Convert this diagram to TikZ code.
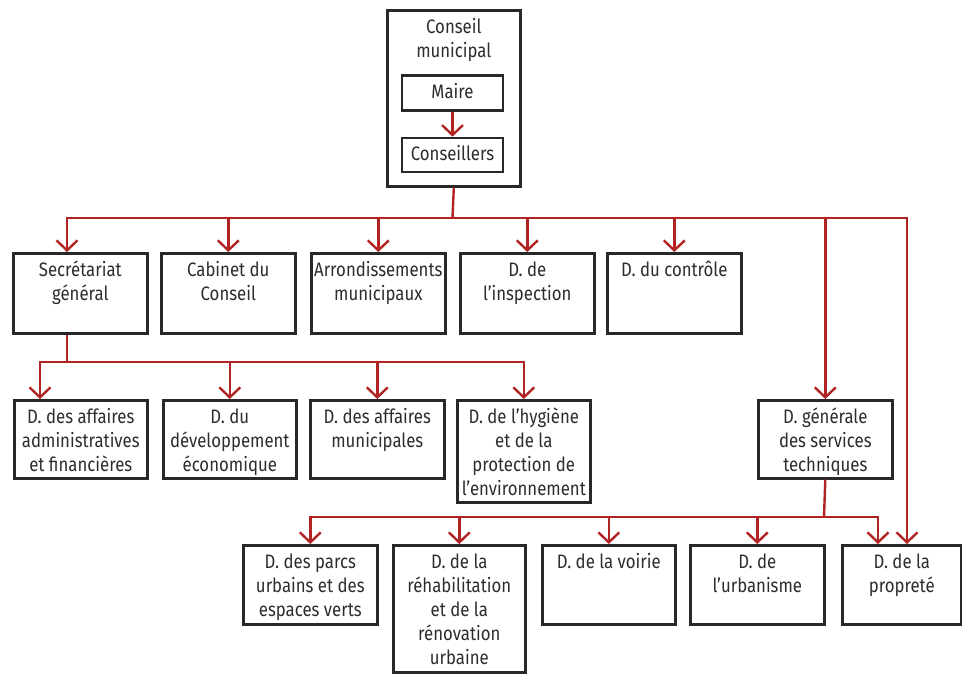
\documentclass[tikz,border=0pt]{standalone}
\usepackage{fontspec}
\setmainfont{Fira Sans}[FakeStretch=0.86]
\usetikzlibrary{arrows.meta,calc}
\definecolor{rd}{RGB}{178,36,36}
\definecolor{bd}{RGB}{40,40,40}
\definecolor{tx}{RGB}{45,45,45}
\newcommand\tbox[3]{\parbox[t][#2][t]{#1}{\lineskiplimit=-30pt\centering\rule{0pt}{23pt}#3\par}}
\tikzset{
  box/.style={draw=bd, line width=2.6pt, inner sep=0pt, anchor=north west, text=tx,
    font=\fontsize{19.5pt}{24pt}\selectfont},
  sbox/.style={box, anchor=center, minimum width=101pt, text height=13pt, text depth=3pt},
  ln/.style={draw=rd, line width=2.4pt},
  arr/.style={ln, -{Straight Barb[length=10pt,width=21pt]}},
}
\begin{document}
\begin{tikzpicture}[x=1pt,y=-1pt]
\fill[white] (0,0) rectangle (962,673);
\useasboundingbox (0,0) rectangle (962,673);
% top
\node[box] (top) at (386,9) {\tbox{133pt}{176pt}{Conseil\\municipal}};
\node[sbox, minimum height=35pt] (maire) at (452.5,93) {Maire};
\node[sbox, minimum height=34pt] (cons) at (452.5,155) {Conseillers};
\draw[arr] (maire) -- (cons);
% row 1
\node[box] (sec)  at (12,252)  {\tbox{134pt}{80pt}{Secrétariat\\général}};
\node[box] (cab)  at (160,252) {\tbox{134pt}{80pt}{Cabinet du\\Conseil}};
\node[box] (arro) at (310,252) {\tbox{134pt}{80pt}{Arrondissements\\municipaux}};
\node[box] (insp) at (459,252) {\tbox{134pt}{80pt}{D. de\\l’inspection}};
\node[box] (ctrl) at (606,252) {\tbox{134pt}{80pt}{D. du contrôle}};
% row 2
\node[box] (daf)  at (13,399)  {\tbox{133pt}{78pt}{D. des affaires\\administratives\\et financières}};
\node[box] (dev)  at (162,399) {\tbox{133pt}{78pt}{D. du\\développement\\économique}};
\node[box] (dam)  at (309,399) {\tbox{134pt}{78pt}{D. des affaires\\municipales}};
\node[box] (hyg)  at (456,399) {\tbox{133pt}{102pt}{D. de l’hygiène\\et de la\\protection de\\l’environnement}};
\node[box] (dgst) at (757,399) {\tbox{134pt}{78pt}{D. générale\\des services\\techniques}};
% row 3
\node[box] (parcs)  at (242,544) {\tbox{134pt}{79pt}{D. des parcs\\urbains et des\\espaces verts}};
\node[box] (rehab)  at (392,544) {\tbox{132pt}{127pt}{D. de la\\réhabilitation\\et de la\\rénovation\\urbaine}};
\node[box] (voirie) at (541,544) {\tbox{133pt}{79pt}{D. de la voirie}};
\node[box] (urb)    at (689,544) {\tbox{134pt}{79pt}{D. de\\l’urbanisme}};
\node[box] (prop)   at (841,544) {\tbox{119pt}{79pt}{D. de la\\propreté}};
% bus 1
\coordinate (b1) at (452.5,218);
\coordinate (secin) at ($(sec.north west)+(55,0)$);
\coordinate (pin) at (907,544);
\draw[ln] (top.south) -- (b1);
\draw[arr] (b1) -| (secin);
\draw[arr] (b1) -| (pin);
\draw[arr] (b1 -| cab.north) -- (cab.north);
\draw[arr] (b1 -| arro.north) -- (arro.north);
\draw[arr] (b1 -| insp.north) -- (insp.north);
\draw[arr] (b1 -| ctrl.north) -- (ctrl.north);
\draw[arr] (b1 -| dgst.north) -- (dgst.north);
% bus 2
\coordinate (secout) at ($(sec.south west)+(55,0)$);
\coordinate (b2) at (67,362);
\coordinate (dafin) at ($(daf.north west)+(27,0)$);
\draw[ln] (secout) -- (b2);
\draw[arr] (b2) -| (dafin);
\draw[arr] (b2) -| (hyg.north);
\draw[arr] (b2 -| dev.north) -- (dev.north);
\draw[arr] (b2 -| dam.north) -- (dam.north);
% bus 3
\coordinate (b3) at (824,517);
\coordinate (propin) at ($(prop.north west)+(37,0)$);
\draw[ln] (dgst.south) -- (b3);
\draw[arr] (b3) -| (parcs.north);
\draw[arr] (b3) -| (propin);
\draw[arr] (b3 -| rehab.north) -- (rehab.north);
\draw[arr] (b3 -| voirie.north) -- (voirie.north);
\draw[arr] (b3 -| urb.north) -- (urb.north);
\end{tikzpicture}
\end{document}
